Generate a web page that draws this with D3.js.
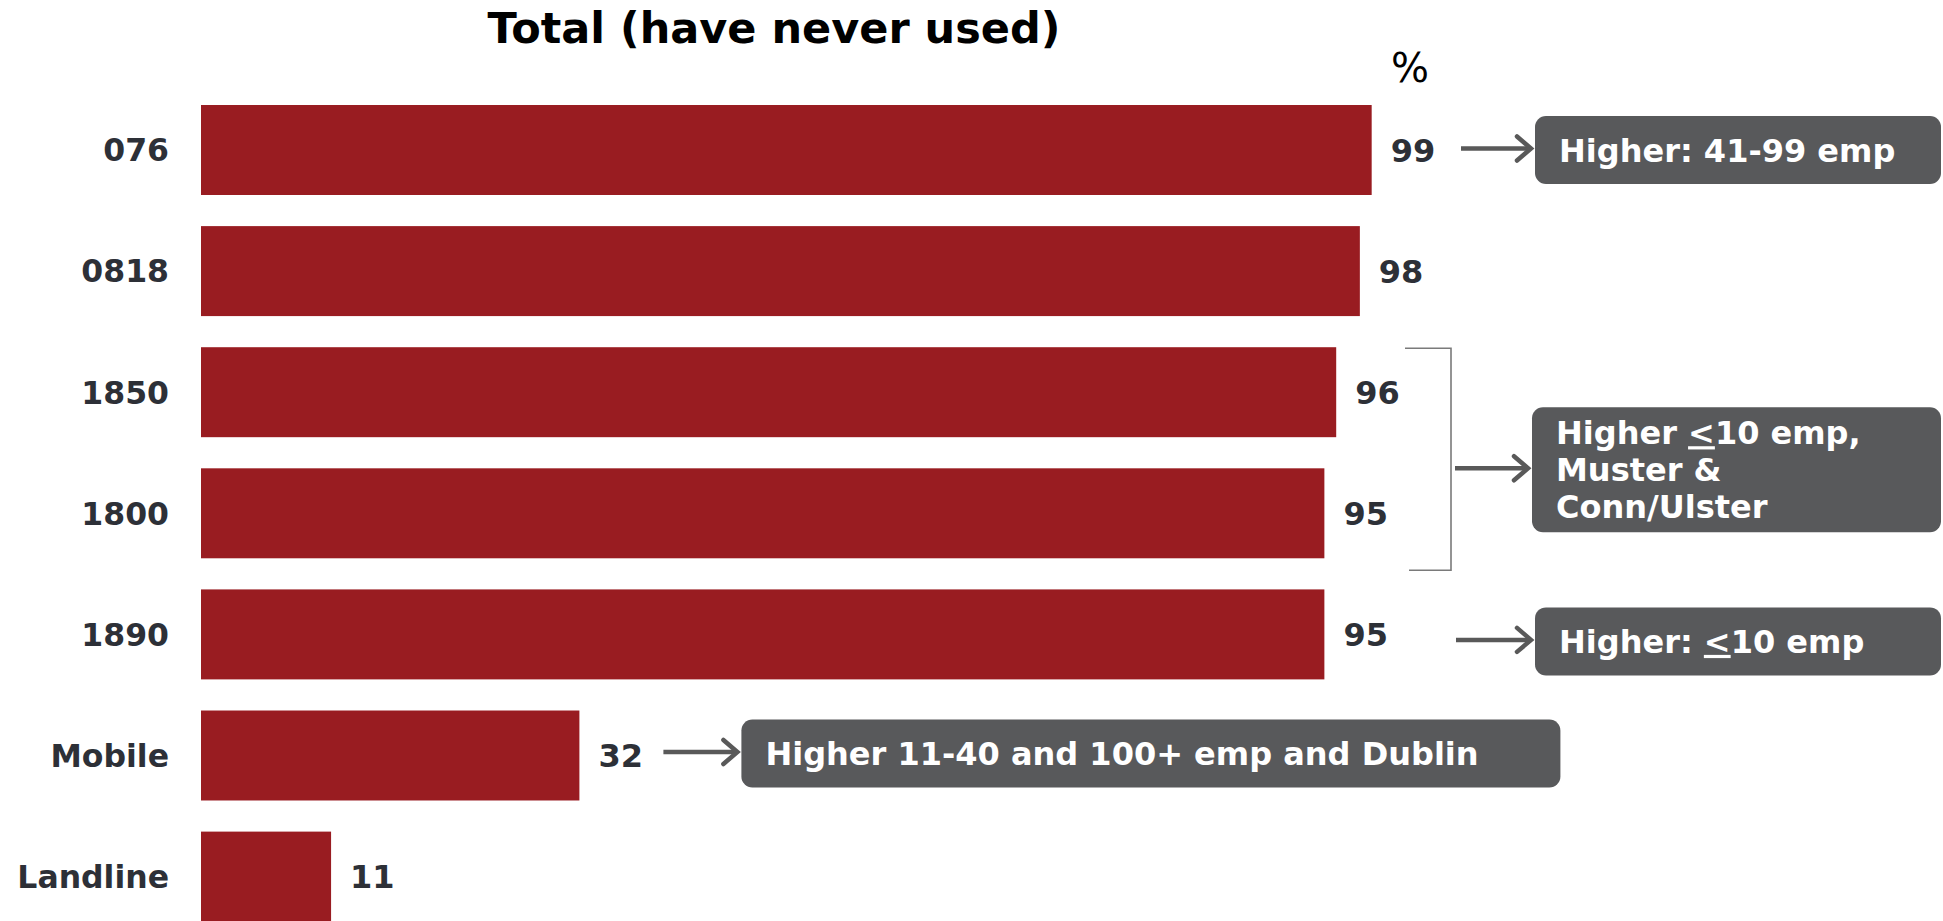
<!DOCTYPE html>
<html>
<head>
<meta charset="utf-8">
<script src="https://cdn.jsdelivr.net/npm/d3@7"></script>
<style>
  html, body { margin: 0; padding: 0; background: #ffffff; }
  svg { display: block; }
  text { font-family: "DejaVu Sans", Verdana, sans-serif; }
</style>
</head>
<body>
<svg id="chart" width="1943" height="921"></svg>
<script>
// Share of respondents who have never used each number type (%)
const categories = ["076", "0818", "1850", "1800", "1890", "Mobile", "Landline"];
const values = [99, 98, 96, 95, 95, 32, 11];

// Call-out notes: which rows each note refers to, and its text lines.
// A "<" inside a note is drawn underlined (read as "less than or equal to").
const noteRows = [["076"], ["1850", "1800"], ["1890"], ["Mobile"]];
const noteLines = [
  ["Higher: 41-99 emp"],
  ["Higher <10 emp,", "Muster &", "Conn/Ulster"],
  ["Higher: <10 emp"],
  ["Higher 11-40 and 100+ emp and Dublin"]
];

const title = "Total (have never used)";
const unitLabel = "%";

const W = 1943, H = 921;
const barColor = "#991c21";
const labelColor = "#2d3037";
const boxColor = "#58595b";
const arrowColor = "#595959";

const svg = d3.select("#chart");

const x = d3.scaleLinear().domain([0, 100]).range([201, 1383.5]);
const y = d3.scaleBand()
  .domain(categories)
  .range([89.45, 89.45 + 121.1 * categories.length])
  .paddingInner(0.257)
  .paddingOuter(0.1285);

// Title and unit
svg.append("text")
  .attr("x", 774).attr("y", 43)
  .attr("text-anchor", "middle")
  .attr("font-size", 43).attr("font-weight", "bold")
  .attr("fill", "#000")
  .text(title);

svg.append("text")
  .attr("x", 1410).attr("y", 82)
  .attr("text-anchor", "middle")
  .attr("font-family", "Open Sans, DejaVu Sans, sans-serif")
  .attr("font-size", 40)
  .attr("fill", "#000")
  .text(unitLabel);

const data = categories.map((c, i) => ({ cat: c, val: values[i] }));

// Bars
svg.append("g").selectAll("rect")
  .data(data)
  .join("rect")
  .attr("x", x(0))
  .attr("y", d => y(d.cat))
  .attr("width", d => x(d.val) - x(0))
  .attr("height", y.bandwidth())
  .attr("fill", barColor);

// Category axis (labels only)
const yAxis = d3.axisLeft(y).tickSize(0).tickPadding(32);
const ax = svg.append("g")
  .attr("transform", `translate(${x(0)},0)`)
  .call(yAxis);
ax.select(".domain").remove();
ax.selectAll("text")
  .attr("font-family", "DejaVu Sans, Verdana, sans-serif")
  .attr("font-size", 31.5)
  .attr("font-weight", "bold")
  .attr("fill", labelColor)
  .attr("dy", "0.36em");

// Value labels
svg.append("g").selectAll("text")
  .data(data)
  .join("text")
  .attr("x", d => x(d.val) + 19)
  .attr("y", d => y(d.cat) + y.bandwidth() / 2)
  .attr("dy", "0.37em")
  .attr("font-size", 32)
  .attr("font-weight", "bold")
  .attr("fill", labelColor)
  .text(d => d.val);

// Note layout: box placement per note
const panelLeft = 1535, panelRight = 1941;
const lineH = 37;
const boxPadX = 24;

function noteGeometry(i) {
  const rows = noteRows[i];
  const top = y(rows[0]);
  const bottom = y(rows[rows.length - 1]) + y.bandwidth();
  const mid = (top + bottom) / 2;
  const nLines = noteLines[i].length;
  const h = nLines === 1 ? 68 : 125;
  let left, right, cy, arrowX1;
  if (rows.includes("Mobile")) {
    const v = values[categories.indexOf("Mobile")];
    left = x(v) + 162;
    right = left + 819;
    cy = mid - 2;
    arrowX1 = left - 78;
  } else if (rows.length > 1) {
    left = panelLeft - 3;
    right = panelRight;
    cy = mid + 17;
    arrowX1 = 1455;
  } else {
    left = panelLeft;
    right = panelRight;
    cy = mid + (rows[0] === "1890" ? 7 : 0);
    arrowX1 = rows[0] === "1890" ? 1456 : 1461;
  }
  return { top, bottom, mid, left, right, cy, h, arrowX1 };
}

const notesG = svg.append("g");

noteRows.forEach((rows, i) => {
  const g = noteGeometry(i);

  // Bracket grouping several rows
  if (rows.length > 1) {
    const bx = 1451;
    notesG.append("path")
      .attr("d", `M1405,${g.top + 1} H${bx} V${g.bottom + 12} H1409`)
      .attr("fill", "none")
      .attr("stroke", "#7a7a7a")
      .attr("stroke-width", 1.6);
  }

  // Arrow
  const ay = g.cy - 1.5;
  const ax2 = g.left - 4;
  notesG.append("line")
    .attr("x1", g.arrowX1).attr("x2", ax2 - 2)
    .attr("y1", ay).attr("y2", ay)
    .attr("stroke", arrowColor).attr("stroke-width", 4.5);
  notesG.append("path")
    .attr("d", `M${ax2 - 14},${ay - 12} L${ax2},${ay} L${ax2 - 14},${ay + 12}`)
    .attr("fill", "none")
    .attr("stroke", arrowColor).attr("stroke-width", 4.5)
    .attr("stroke-linecap", "round").attr("stroke-linejoin", "miter");

  // Box
  notesG.append("rect")
    .attr("x", g.left).attr("y", g.cy - g.h / 2)
    .attr("width", g.right - g.left).attr("height", g.h)
    .attr("rx", 11).attr("ry", 11)
    .attr("fill", boxColor);

  // Text lines
  const lines = noteLines[i];
  const firstBaseline = g.cy - (lines.length - 1) * lineH / 2 + 11.5;
  lines.forEach((ln, j) => {
    const t = notesG.append("text")
      .attr("x", g.left + boxPadX)
      .attr("y", firstBaseline + j * lineH)
      .attr("font-size", 32)
      .attr("font-weight", "bold")
      .attr("fill", "#ffffff");
    ln.split(/(<)/).filter(s => s.length).forEach(seg => {
      const ts = t.append("tspan").text(seg);
      if (seg === "<") ts.attr("text-decoration", "underline");
    });
  });
});
</script>
</body>
</html>
